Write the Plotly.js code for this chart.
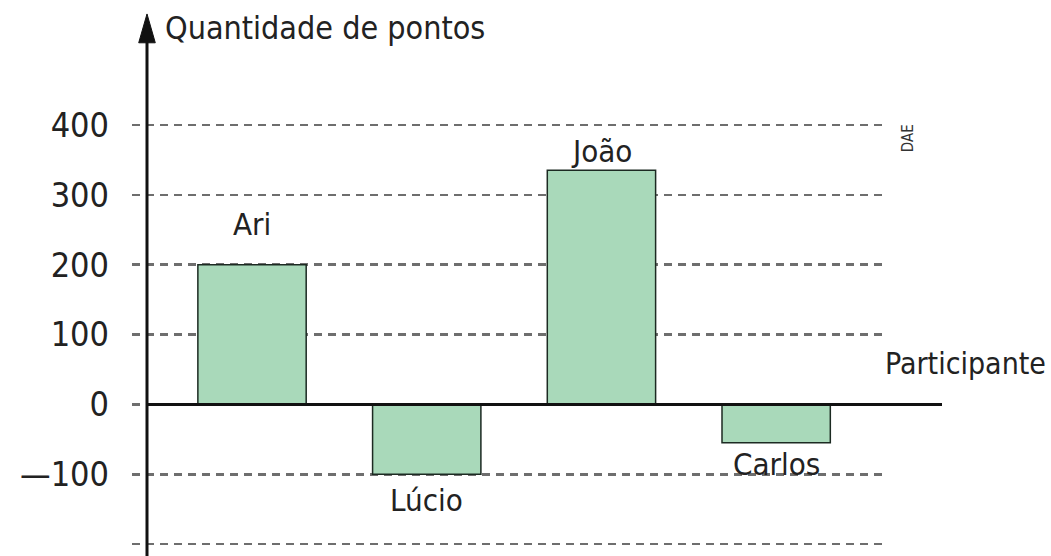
<!DOCTYPE html>
<html><head><meta charset="utf-8">
<script src="https://cdn.plot.ly/plotly-3.0.1.min.js"></script>
<style>html,body{margin:0;padding:0;background:#fff}#chart{width:1051px;height:556px}</style>
</head><body><div id="chart"></div>
<script>
const participants = ["Ari", "Lúcio", "João", "Carlos"];
const points = [200, -100, 335, -55];
const tickValues = [-200, -100, 0, 100, 200, 300, 400];
const tickLabels = ["", "\u2014100", "0", "100", "200", "300", "400"];
const yTitle = "Quantidade de pontos";
const xTitle = "Participante";
const credit = "DAE";

const FONT = "DejaVu Sans Condensed, DejaVu Sans, sans-serif";
const labelShift = [41, -26, 19, -21];

const trace = {
  type: "bar",
  x: participants,
  y: points,
  width: 0.62,
  marker: {color: "#a9d9ba", line: {color: "#1c2a22", width: 1.5}},
  hoverinfo: "skip"
};

const annotations = participants.map((p, i) => ({
  x: p, y: points[i], xref: "x", yref: "y",
  text: p, showarrow: false, yanchor: "middle", xanchor: "center",
  yshift: labelShift[i],
  font: {family: FONT, size: 31, color: "#222"}
}));
annotations.push({
  xref: "paper", yref: "paper", x: 0.041, y: 1.116, xanchor: "left", yanchor: "middle",
  text: yTitle, showarrow: false, font: {family: FONT, size: 32, color: "#222"}
});
annotations.push({
  xref: "paper", yref: "y", x: 0.998, y: 58, xanchor: "left", yanchor: "middle",
  text: xTitle, showarrow: false, font: {family: FONT, size: 30, color: "#222"}
});
annotations.push({
  xref: "paper", yref: "y", x: 1.0305, y: 381, xanchor: "center", yanchor: "middle",
  text: credit, textangle: -90, showarrow: false, font: {family: FONT, size: 15, color: "#333"}
});

const axX = (147 - 132) / 753;
const layout = {
  width: 1051, height: 556,
  margin: {l: 132, r: 166, t: 83, b: 0},
  paper_bgcolor: "#fff", plot_bgcolor: "#fff",
  showlegend: false,
  bargap: 0,
  xaxis: {
    type: "category", range: [-0.687, 3.623],
    showticklabels: false, showgrid: false, zeroline: false, showline: false, ticks: ""
  },
  yaxis: {
    range: [-217, 460],
    tickvals: tickValues, ticktext: tickLabels,
    tickfont: {family: FONT, size: 34, color: "#222"},
    ticklabelstandoff: 22,
    showgrid: true, gridcolor: "#6e6e6e", gridwidth: 2.5, griddash: "8px,6px",
    zeroline: false, showline: false, ticks: ""
  },
  shapes: [
    {type: "line", xref: "paper", yref: "paper", x0: axX, x1: axX, y0: 0, y1: 1.09,
     line: {color: "#111", width: 3}, layer: "above"},
    {type: "line", xref: "paper", yref: "y", x0: axX, x1: 1.0757, y0: 0, y1: 0,
     line: {color: "#111", width: 3}, layer: "above"},
    {type: "path", xref: "paper", yref: "paper",
     path: `M ${axX - 0.011} 1.085 L ${axX} 1.146 L ${axX + 0.011} 1.085 Z`,
     fillcolor: "#111", line: {color: "#111", width: 1}, layer: "above"}
  ],
  annotations: annotations
};

Plotly.newPlot("chart", [trace], layout, {displayModeBar: false, staticPlot: true});
</script></body></html>
